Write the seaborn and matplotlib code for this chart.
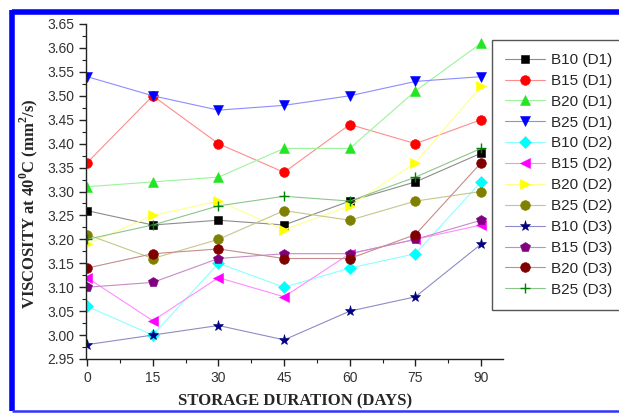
import numpy as np
import pandas as pd
import seaborn as sns
import matplotlib
matplotlib.use("Agg")
import matplotlib.pyplot as plt
from matplotlib.lines import Line2D
from matplotlib.colors import to_rgb
from matplotlib.ticker import MultipleLocator, FormatStrFormatter

# Storage days
days = [0, 15, 30, 45, 60, 75, 90]

# Kinematic viscosity at 40 C (mm^2/s) per blend / diesel
b10_d1 = [3.26, 3.23, 3.24, 3.23, 3.28, 3.32, 3.38]
b15_d1 = [3.36, 3.50, 3.40, 3.34, 3.44, 3.40, 3.45]
b20_d1 = [3.31, 3.32, 3.33, 3.39, 3.39, 3.51, 3.61]
b25_d1 = [3.54, 3.50, 3.47, 3.48, 3.50, 3.53, 3.54]
b10_d2 = [3.06, 3.00, 3.15, 3.10, 3.14, 3.17, 3.32]
b15_d2 = [3.12, 3.03, 3.12, 3.08, 3.17, 3.20, 3.23]
b20_d2 = [3.19, 3.25, 3.28, 3.22, 3.27, 3.36, 3.52]
b25_d2 = [3.21, 3.16, 3.20, 3.26, 3.24, 3.28, 3.30]
b10_d3 = [2.98, 3.00, 3.02, 2.99, 3.05, 3.08, 3.19]
b15_d3 = [3.10, 3.11, 3.16, 3.17, 3.17, 3.20, 3.24]
b20_d3 = [3.14, 3.17, 3.18, 3.16, 3.16, 3.21, 3.36]
b25_d3 = [3.20, 3.23, 3.27, 3.29, 3.28, 3.33, 3.39]

series_names = ["B10 (D1)", "B15 (D1)", "B20 (D1)", "B25 (D1)",
                "B10 (D2)", "B15 (D2)", "B20 (D2)", "B25 (D2)",
                "B10 (D3)", "B15 (D3)", "B20 (D3)", "B25 (D3)"]
series_values = [b10_d1, b15_d1, b20_d1, b25_d1,
                 b10_d2, b15_d2, b20_d2, b25_d2,
                 b10_d3, b15_d3, b20_d3, b25_d3]

colors = ["#000000", "#ff0000", "#22e622", "#0000ff",
          "#00ffff", "#ff00ff", "#ffff00", "#808000",
          "#000080", "#800080", "#800000", "#008000"]
markers = ["s", "o", "^", "v", "D", "<", ">", "o", "*", "p", "o", "+"]
msizes = [6, 7, 7, 7, 6, 7, 7, 7, 8, 7.5, 7, 7]

rows = []
for name, vals in zip(series_names, series_values):
    for d, v in zip(days, vals):
        rows.append({"days": d, "viscosity": v, "series": name})
df = pd.DataFrame(rows)

sns.set_style("ticks")
plt.rcParams["font.family"] = ["Liberation Sans", "DejaVu Sans"]
plt.rcParams["mathtext.fontset"] = "custom"
plt.rcParams["mathtext.rm"] = "Liberation Serif:bold"
plt.rcParams["mathtext.bf"] = "Liberation Serif:bold"

fig = plt.figure(figsize=(6.19, 4.13), dpi=100)
ax = fig.add_axes([86 / 619, 1 - 359 / 413, (503 - 86) / 619, (359 - 24) / 413])

# seaborn cannot mix filled and line-art markers, so the plus is set afterwards
filled_markers = [m if m != "+" else "P" for m in markers]
sns.lineplot(data=df, x="days", y="viscosity", hue="series", style="series",
             hue_order=series_names, style_order=series_names,
             palette=dict(zip(series_names, colors)),
             markers=dict(zip(series_names, filled_markers)), dashes=False,
             linewidth=0.8, legend=False, ax=ax)


def lighten(c, f=0.5):
    r, g, b = to_rgb(c)
    return (r + (1 - r) * f, g + (1 - g) * f, b + (1 - b) * f)


# Lines in pale tones, markers in full colour
for line, c, m, ms in zip(ax.lines, colors, markers, msizes):
    line.set_marker(m)
    line.set_color(lighten(c, 0.55))
    line.set_markerfacecolor(c)
    line.set_markeredgecolor(c)
    line.set_markeredgewidth(1.0 if m == "+" else 0.4)
    line.set_markersize(ms)

ax.set_xlim(-0.25, 95)
ax.set_ylim(2.95, 3.65)
ax.xaxis.set_major_locator(MultipleLocator(15))
ax.xaxis.set_minor_locator(MultipleLocator(7.5))
ax.yaxis.set_major_locator(MultipleLocator(0.05))
ax.yaxis.set_minor_locator(MultipleLocator(0.025))
ax.yaxis.set_major_formatter(FormatStrFormatter("%.2f"))

for s in ["top", "right"]:
    ax.spines[s].set_visible(False)
for s in ["left", "bottom"]:
    ax.spines[s].set_color("#222222")
    ax.spines[s].set_linewidth(1.0)
ax.tick_params(which="major", direction="out", length=5, width=1.0,
               color="#222222", labelsize=10, labelcolor="#333333")
ax.tick_params(which="minor", direction="out", length=3, width=0.8, color="#222222")

label_font = dict(family=["Liberation Serif", "DejaVu Serif"], weight="bold", size=12)
ax.set_xlabel("STORAGE DURATION (DAYS)", fontdict=label_font, va="center")
ax.set_ylabel("VISCOSITY at 40$^\\mathbf{0}$C (mm$^\\mathbf{2}$/s)", fontdict=label_font,
              va="center")
ax.xaxis.set_label_coords(0.501, -0.128)
ax.yaxis.set_label_coords(-0.137, 0.463)

fig.legend(ax.lines, series_names, loc="upper left",
           bbox_to_anchor=(492 / 619, 1 - 40 / 413),
           frameon=True, fancybox=False, edgecolor="#555555", framealpha=1,
           fontsize=11, labelspacing=0.45, handlelength=2.6, handletextpad=0.4,
           borderpad=0.85, borderaxespad=0)

# Blue page frame
blue = "#0000ff"
fig.add_artist(Line2D([12 / 619, 1.0], [1 - 12 / 413, 1 - 12 / 413],
                      transform=fig.transFigure, color=blue, lw=4, solid_capstyle="butt"))
fig.add_artist(Line2D([12 / 619, 12 / 619], [1 - 411 / 413, 1 - 10 / 413],
                      transform=fig.transFigure, color=blue, lw=4, solid_capstyle="butt"))
fig.add_artist(Line2D([12 / 619, 1.0], [1 - 411.3 / 413, 1 - 411.3 / 413],
                      transform=fig.transFigure, color="#3333ff", lw=1.8, solid_capstyle="butt"))

fig.savefig("out.png", dpi=100)
